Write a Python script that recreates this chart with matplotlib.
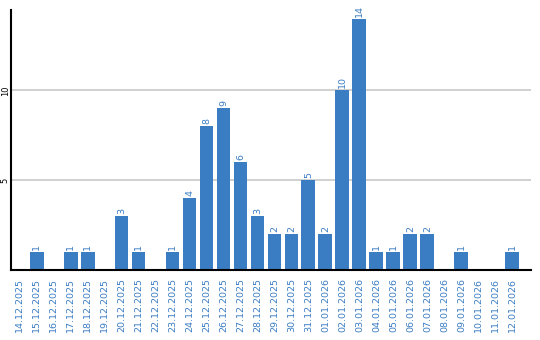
import matplotlib
matplotlib.use("Agg")
import matplotlib.pyplot as plt

dates = ["14.12.2025", "15.12.2025", "16.12.2025", "17.12.2025", "18.12.2025",
         "19.12.2025", "20.12.2025", "21.12.2025", "22.12.2025", "23.12.2025",
         "24.12.2025", "25.12.2025", "26.12.2025", "27.12.2025", "28.12.2025",
         "29.12.2025", "30.12.2025", "31.12.2025", "01.01.2026", "02.01.2026",
         "03.01.2026", "04.01.2026", "05.01.2026", "06.01.2026", "07.01.2026",
         "08.01.2026", "09.01.2026", "10.01.2026", "11.01.2026", "12.01.2026"]
counts = [0, 1, 0, 1, 1, 0, 3, 1, 0, 1,
          4, 8, 9, 6, 3, 2, 2, 5, 2, 10,
          14, 1, 1, 2, 2, 0, 1, 0, 0, 1]

blue = "#3b7dc3"

fig = plt.figure(figsize=(5.4, 3.4), dpi=100)
ax = fig.add_axes([0.0205, 0.207, 0.963, 0.764])

x = list(range(len(dates)))
ax.bar(x, counts, width=0.82, color=blue, zorder=3)

# подписи значений над столбиками
for xi, v in zip(x, counts):
    if v > 0:
        ax.text(xi, v + 0.12, str(v), rotation=90, ha="center", va="bottom",
                color=blue, fontsize=6.8)

ax.set_xlim(-0.5, 30.1)
ax.set_ylim(0, 14.5)
ax.set_xticks(x)
ax.set_xticklabels(dates, rotation=90, color=blue, fontsize=6.8)
ax.set_yticks([5, 10])
ax.set_yticklabels(["5", "10"], rotation=90, va="center", fontsize=6)
ax.tick_params(axis="both", length=0)
ax.tick_params(axis="x", pad=6)
ax.tick_params(axis="y", pad=1)

ax.grid(axis="y", color="#c8c8c8", linewidth=1.2, zorder=0)
for side in ["top", "right"]:
    ax.spines[side].set_visible(False)
for side in ["left", "bottom"]:
    ax.spines[side].set_linewidth(1.5)
    ax.spines[side].set_zorder(4)

fig.savefig("out.png", dpi=100)
